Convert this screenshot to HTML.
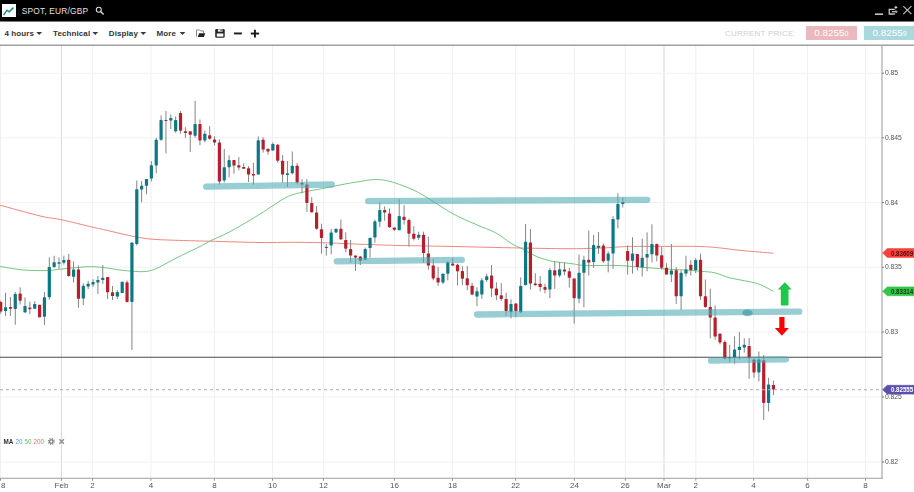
<!DOCTYPE html>
<html><head><meta charset="utf-8">
<style>
*{margin:0;padding:0;box-sizing:border-box}
html,body{width:914px;height:492px;overflow:hidden;background:#fff;font-family:"Liberation Sans",sans-serif}
.hdr{position:absolute;left:0;top:0;width:914px;height:21px;background:#000;border-bottom:1px solid #7a7a7a;height:22px}
.logo{position:absolute;left:2px;top:4px;width:14px;height:13px;background:#fff}
.title{position:absolute;left:21.8px;top:7px;color:#e0e0e0;font-size:8.4px;letter-spacing:0.17px;line-height:9px;white-space:nowrap}
.tb{position:absolute;left:0;top:22px;width:914px;height:22px;background:#fff}
.tbi{position:absolute;top:30.1px;font-size:8px;letter-spacing:0.1px;font-weight:bold;color:#333;line-height:8px;white-space:nowrap}
.tri{position:absolute;top:32.5px;width:0;height:0;border-left:2.5px solid transparent;border-right:2.5px solid transparent;border-top:2.4px solid #4a4a4a}
.sep{position:absolute;left:0;top:44px;width:914px;height:2px;background:linear-gradient(#cdcdcd 50%,#a2a2a2 50%)}
.cp{position:absolute;left:725px;top:30.3px;font-size:8px;color:#cfcfcf;letter-spacing:0.22px;line-height:8px;white-space:nowrap}
.pbox{position:absolute;top:26px;height:14.3px;color:#fff;font-size:9.9px;line-height:13.3px;white-space:nowrap}
.pbox small{font-size:7px}
.chart{position:absolute;left:0;top:0;will-change:transform}
.xl{font-size:8px;fill:#555;font-family:"Liberation Sans",sans-serif}
.yl{font-size:6.8px;fill:#555;font-family:"Liberation Sans",sans-serif}
.tag{font-size:6.8px;font-weight:bold;font-family:"Liberation Sans",sans-serif}
.leg{position:absolute;top:438px;font-size:6.3px;line-height:7px;white-space:nowrap}
</style></head><body>
<svg class="chart" width="914" height="492" viewBox="0 0 914 492">
<line x1="0.5" y1="46" x2="0.5" y2="478.3" stroke="#efefef" stroke-width="1"/>
<line x1="61.5" y1="46" x2="61.5" y2="478.3" stroke="#d9d9d9" stroke-width="1"/>
<line x1="92.6" y1="46" x2="92.6" y2="478.3" stroke="#efefef" stroke-width="1"/>
<line x1="150.9" y1="46" x2="150.9" y2="478.3" stroke="#efefef" stroke-width="1"/>
<line x1="214.4" y1="46" x2="214.4" y2="478.3" stroke="#efefef" stroke-width="1"/>
<line x1="272.5" y1="46" x2="272.5" y2="478.3" stroke="#efefef" stroke-width="1"/>
<line x1="323.4" y1="46" x2="323.4" y2="478.3" stroke="#efefef" stroke-width="1"/>
<line x1="394.4" y1="46" x2="394.4" y2="478.3" stroke="#efefef" stroke-width="1"/>
<line x1="452.5" y1="46" x2="452.5" y2="478.3" stroke="#efefef" stroke-width="1"/>
<line x1="515.6" y1="46" x2="515.6" y2="478.3" stroke="#efefef" stroke-width="1"/>
<line x1="574.4" y1="46" x2="574.4" y2="478.3" stroke="#efefef" stroke-width="1"/>
<line x1="625.3" y1="46" x2="625.3" y2="478.3" stroke="#efefef" stroke-width="1"/>
<line x1="664" y1="46" x2="664" y2="478.3" stroke="#d9d9d9" stroke-width="1"/>
<line x1="695.8" y1="46" x2="695.8" y2="478.3" stroke="#efefef" stroke-width="1"/>
<line x1="753.6" y1="46" x2="753.6" y2="478.3" stroke="#efefef" stroke-width="1"/>
<line x1="807.6" y1="46" x2="807.6" y2="478.3" stroke="#efefef" stroke-width="1"/>
<line x1="865.5" y1="46" x2="865.5" y2="478.3" stroke="#efefef" stroke-width="1"/>
<line x1="0" y1="73.2" x2="882" y2="73.2" stroke="#f1f1f1" stroke-width="1"/>
<line x1="0" y1="137.8" x2="882" y2="137.8" stroke="#f1f1f1" stroke-width="1"/>
<line x1="0" y1="202.6" x2="882" y2="202.6" stroke="#f1f1f1" stroke-width="1"/>
<line x1="0" y1="267.2" x2="882" y2="267.2" stroke="#f1f1f1" stroke-width="1"/>
<line x1="0" y1="332" x2="882" y2="332" stroke="#f1f1f1" stroke-width="1"/>
<line x1="0" y1="397" x2="882" y2="397" stroke="#f1f1f1" stroke-width="1"/>
<line x1="0" y1="462" x2="882" y2="462" stroke="#f1f1f1" stroke-width="1"/>
<path d="M0,205.2 C6.78,207.02 30.4,213.67 40.7,216.1 C51,218.53 53.13,217.95 61.8,219.8 C70.47,221.65 85.4,225.5 92.7,227.2 C100,228.9 99.38,228.58 105.6,230 C111.82,231.42 122.6,234.2 130,235.7 C137.4,237.2 142.33,238.23 150,239 C157.67,239.77 166.07,239.93 176,240.3 C185.93,240.67 195.6,240.83 209.6,241.2 C223.6,241.57 246.5,242.32 260,242.5 C273.5,242.68 280.43,242.27 290.6,242.3 C300.77,242.33 310.77,242.43 321,242.7 C331.23,242.97 342.17,243.53 352,243.9 C361.83,244.27 372,244.63 380,244.9 C388,245.17 388.5,245.25 400,245.5 C411.5,245.75 429,245.98 449,246.4 C469,246.82 500.5,247.62 520,248 C539.5,248.38 554.5,248.63 566,248.7 C577.5,248.77 581.33,248.6 589,248.4 C596.67,248.2 605.67,247.82 612,247.5 C618.33,247.18 619,246.68 627,246.5 C635,246.32 648.5,246.42 660,246.4 C671.5,246.38 686.7,246.22 696,246.4 C705.3,246.58 708.15,246.82 715.8,247.5 C723.45,248.18 732.32,249.55 741.9,250.5 C751.48,251.45 768.07,252.75 773.3,253.2" fill="none" stroke="#ea8279" stroke-width="0.95"/>
<path d="M0,266.5 C3.83,267.07 15.33,269.22 23,269.9 C30.67,270.58 39.62,270.73 46,270.6 C52.38,270.47 56.2,269.6 61.3,269.1 C66.4,268.6 71.5,268.02 76.6,267.6 C81.7,267.18 86.8,266.53 91.9,266.6 C97,266.67 102.1,267.38 107.2,268 C112.3,268.62 116.53,269.68 122.5,270.3 C128.47,270.92 137.67,271.87 143,271.7 C148.33,271.53 150.83,270.57 154.5,269.3 C158.17,268.03 160.33,266.5 165,264.1 C169.67,261.7 176.67,257.82 182.5,254.9 C188.33,251.98 195.43,248.9 200,246.6 C204.57,244.3 205,243.53 209.9,241.1 C214.8,238.67 222.08,235.87 229.4,232 C236.72,228.13 246.7,222.18 253.8,217.9 C260.9,213.62 266.92,209.55 272,206.3 C277.08,203.05 280.22,200.52 284.3,198.4 C288.38,196.28 290.05,195.27 296.5,193.6 C302.95,191.93 314.75,190.03 323,188.4 C331.25,186.77 339.62,184.98 346,183.8 C352.38,182.62 356.72,182 361.3,181.3 C365.88,180.6 369.42,179.75 373.5,179.6 C377.58,179.45 381.47,179.58 385.8,180.4 C390.13,181.22 394.65,182.78 399.5,184.5 C404.35,186.22 409.78,188.2 414.9,190.7 C420.02,193.2 423.85,195.65 430.2,199.5 C436.55,203.35 445.37,209.63 453,213.8 C460.63,217.97 468.87,221.32 476,224.5 C483.13,227.68 489.93,229.75 495.8,232.9 C501.67,236.05 506.85,240.77 511.2,243.4 C515.55,246.03 517.57,246.48 521.9,248.7 C526.23,250.92 532.1,254.6 537.2,256.7 C542.3,258.8 547.03,260.18 552.5,261.3 C557.97,262.42 564.53,262.7 570,263.4 C575.47,264.1 577.63,265.17 585.3,265.5 C592.97,265.83 607.05,265.15 616,265.4 C624.95,265.65 631.33,266.43 639,267 C646.67,267.57 654.35,268.3 662,268.8 C669.65,269.3 678.23,269.57 684.9,270 C691.57,270.43 697.02,270.93 702,271.4 C706.98,271.87 710.2,271.73 714.8,272.8 C719.4,273.87 724.68,276.48 729.6,277.8 C734.52,279.12 739.38,279.63 744.3,280.7 C749.22,281.77 754.25,282.42 759.1,284.2 C763.95,285.98 771.02,290.2 773.4,291.4" fill="none" stroke="#66bf70" stroke-width="0.9"/>
<line x1="0.7" y1="300.7" x2="0.7" y2="313.7" stroke="#858585" stroke-width="1"/>
<rect x="-0.9" y="302" width="3.2" height="9.5" rx="0.6" fill="#b61f2b"/>
<line x1="5.56" y1="292.6" x2="5.56" y2="315.9" stroke="#858585" stroke-width="1"/>
<rect x="3.96" y="307.2" width="3.2" height="3.8" rx="0.6" fill="#0b7884"/>
<line x1="10.42" y1="296.8" x2="10.42" y2="315.9" stroke="#858585" stroke-width="1"/>
<rect x="8.82" y="307" width="3.2" height="1.7" rx="0.6" fill="#b61f2b"/>
<line x1="15.28" y1="292" x2="15.28" y2="324.8" stroke="#858585" stroke-width="1"/>
<rect x="13.68" y="293.9" width="3.2" height="15" rx="0.6" fill="#0b7884"/>
<line x1="20.14" y1="287.4" x2="20.14" y2="304.5" stroke="#858585" stroke-width="1"/>
<rect x="18.54" y="293.6" width="3.2" height="7.1" rx="0.6" fill="#b61f2b"/>
<line x1="25" y1="297.5" x2="25" y2="312.4" stroke="#858585" stroke-width="1"/>
<rect x="23.4" y="306" width="3.2" height="6.4" rx="0.6" fill="#0b7884"/>
<line x1="29.86" y1="301.7" x2="29.86" y2="314.2" stroke="#858585" stroke-width="1"/>
<rect x="28.26" y="307.6" width="3.2" height="1.6" rx="0.6" fill="#b61f2b"/>
<line x1="34.72" y1="301.2" x2="34.72" y2="308.7" stroke="#858585" stroke-width="1"/>
<rect x="33.12" y="304" width="3.2" height="4.7" rx="0.6" fill="#0b7884"/>
<line x1="39.58" y1="304.8" x2="39.58" y2="317.3" stroke="#858585" stroke-width="1"/>
<rect x="37.98" y="304.8" width="3.2" height="12.5" rx="0.6" fill="#b61f2b"/>
<line x1="44.44" y1="292" x2="44.44" y2="325" stroke="#858585" stroke-width="1"/>
<rect x="42.84" y="297.3" width="3.2" height="19.4" rx="0.6" fill="#0b7884"/>
<line x1="49.3" y1="257.3" x2="49.3" y2="299.6" stroke="#858585" stroke-width="1"/>
<rect x="47.7" y="267" width="3.2" height="30.2" rx="0.6" fill="#0b7884"/>
<line x1="54.16" y1="255.7" x2="54.16" y2="267.9" stroke="#858585" stroke-width="1"/>
<rect x="52.56" y="262.2" width="3.2" height="4.7" rx="0.6" fill="#0b7884"/>
<line x1="59.02" y1="257.3" x2="59.02" y2="268.7" stroke="#858585" stroke-width="1"/>
<rect x="57.42" y="262.2" width="3.2" height="1.6" rx="0.6" fill="#0b7884"/>
<line x1="63.88" y1="255.7" x2="63.88" y2="264.6" stroke="#858585" stroke-width="1"/>
<rect x="62.28" y="260" width="3.2" height="2.7" rx="0.6" fill="#0b7884"/>
<line x1="68.74" y1="254" x2="68.74" y2="276.8" stroke="#858585" stroke-width="1"/>
<rect x="67.14" y="259.8" width="3.2" height="16.2" rx="0.6" fill="#b61f2b"/>
<line x1="73.6" y1="261.4" x2="73.6" y2="282.5" stroke="#858585" stroke-width="1"/>
<rect x="72" y="269.5" width="3.2" height="7.3" rx="0.6" fill="#0b7884"/>
<line x1="78.46" y1="265.4" x2="78.46" y2="307.7" stroke="#858585" stroke-width="1"/>
<rect x="76.86" y="269.5" width="3.2" height="29.3" rx="0.6" fill="#b61f2b"/>
<line x1="83.32" y1="283.3" x2="83.32" y2="305" stroke="#858585" stroke-width="1"/>
<rect x="81.72" y="285.8" width="3.2" height="12.7" rx="0.6" fill="#0b7884"/>
<line x1="88.18" y1="280.9" x2="88.18" y2="289" stroke="#858585" stroke-width="1"/>
<rect x="86.58" y="283.7" width="3.2" height="2.9" rx="0.6" fill="#0b7884"/>
<line x1="93.04" y1="279.3" x2="93.04" y2="287" stroke="#858585" stroke-width="1"/>
<rect x="91.44" y="282" width="3.2" height="2.6" rx="0.6" fill="#0b7884"/>
<line x1="97.9" y1="276" x2="97.9" y2="294" stroke="#858585" stroke-width="1"/>
<rect x="96.3" y="280" width="3.2" height="2.5" rx="0.6" fill="#0b7884"/>
<line x1="102.76" y1="265" x2="102.76" y2="284" stroke="#858585" stroke-width="1"/>
<rect x="101.16" y="277.8" width="3.2" height="2.2" rx="0.6" fill="#0b7884"/>
<line x1="107.62" y1="277" x2="107.62" y2="299" stroke="#858585" stroke-width="1"/>
<rect x="106.02" y="277" width="3.2" height="15.3" rx="0.6" fill="#b61f2b"/>
<line x1="112.48" y1="286" x2="112.48" y2="300" stroke="#858585" stroke-width="1"/>
<rect x="110.88" y="292.3" width="3.2" height="3.7" rx="0.6" fill="#b61f2b"/>
<line x1="117.34" y1="290" x2="117.34" y2="299" stroke="#858585" stroke-width="1"/>
<rect x="115.74" y="292" width="3.2" height="4.6" rx="0.6" fill="#0b7884"/>
<line x1="122.2" y1="281.8" x2="122.2" y2="292.9" stroke="#858585" stroke-width="1"/>
<rect x="120.6" y="281.8" width="3.2" height="11.1" rx="0.6" fill="#0b7884"/>
<line x1="127.06" y1="280.5" x2="127.06" y2="302.5" stroke="#858585" stroke-width="1"/>
<rect x="125.46" y="282.3" width="3.2" height="19.6" rx="0.6" fill="#b61f2b"/>
<line x1="131.92" y1="242.6" x2="131.92" y2="350" stroke="#858585" stroke-width="1"/>
<rect x="130.32" y="242.6" width="3.2" height="59.3" rx="0.6" fill="#0b7884"/>
<line x1="136.78" y1="180.5" x2="136.78" y2="245.5" stroke="#858585" stroke-width="1"/>
<rect x="135.18" y="189.2" width="3.2" height="54.7" rx="0.6" fill="#0b7884"/>
<line x1="141.64" y1="181.1" x2="141.64" y2="202.4" stroke="#858585" stroke-width="1"/>
<rect x="140.04" y="185.8" width="3.2" height="3.8" rx="0.6" fill="#0b7884"/>
<line x1="146.5" y1="179" x2="146.5" y2="194.3" stroke="#858585" stroke-width="1"/>
<rect x="144.9" y="179" width="3.2" height="6.8" rx="0.6" fill="#0b7884"/>
<line x1="151.36" y1="161.2" x2="151.36" y2="181.5" stroke="#858585" stroke-width="1"/>
<rect x="149.76" y="165.2" width="3.2" height="13.3" rx="0.6" fill="#0b7884"/>
<line x1="156.22" y1="137.8" x2="156.22" y2="173.3" stroke="#858585" stroke-width="1"/>
<rect x="154.62" y="139.8" width="3.2" height="25.6" rx="0.6" fill="#0b7884"/>
<line x1="161.08" y1="115.4" x2="161.08" y2="140.8" stroke="#858585" stroke-width="1"/>
<rect x="159.48" y="120.1" width="3.2" height="19.7" rx="0.6" fill="#0b7884"/>
<line x1="165.94" y1="110.9" x2="165.94" y2="153.4" stroke="#858585" stroke-width="1"/>
<rect x="164.34" y="119.9" width="3.2" height="1.2" rx="0.6" fill="#b61f2b"/>
<line x1="170.8" y1="114.4" x2="170.8" y2="129" stroke="#858585" stroke-width="1"/>
<rect x="169.2" y="118" width="3.2" height="2.5" rx="0.6" fill="#0b7884"/>
<line x1="175.66" y1="116.4" x2="175.66" y2="132.7" stroke="#858585" stroke-width="1"/>
<rect x="174.06" y="120.1" width="3.2" height="11.2" rx="0.6" fill="#0b7884"/>
<line x1="180.52" y1="110.9" x2="180.52" y2="133.7" stroke="#858585" stroke-width="1"/>
<rect x="178.92" y="113" width="3.2" height="17.7" rx="0.6" fill="#b61f2b"/>
<line x1="185.38" y1="127.2" x2="185.38" y2="137.8" stroke="#858585" stroke-width="1"/>
<rect x="183.78" y="131.3" width="3.2" height="1.8" rx="0.6" fill="#b61f2b"/>
<line x1="190.24" y1="131.3" x2="190.24" y2="152" stroke="#858585" stroke-width="1"/>
<rect x="188.64" y="131.3" width="3.2" height="3.4" rx="0.6" fill="#b61f2b"/>
<line x1="195.1" y1="100.8" x2="195.1" y2="137.8" stroke="#858585" stroke-width="1"/>
<rect x="193.5" y="124.1" width="3.2" height="11.6" rx="0.6" fill="#0b7884"/>
<line x1="199.96" y1="119.5" x2="199.96" y2="145.3" stroke="#858585" stroke-width="1"/>
<rect x="198.36" y="124.1" width="3.2" height="16.3" rx="0.6" fill="#b61f2b"/>
<line x1="204.82" y1="130.7" x2="204.82" y2="142.4" stroke="#858585" stroke-width="1"/>
<rect x="203.22" y="133.7" width="3.2" height="6.7" rx="0.6" fill="#0b7884"/>
<line x1="209.68" y1="126.2" x2="209.68" y2="139.8" stroke="#858585" stroke-width="1"/>
<rect x="208.08" y="135.3" width="3.2" height="3.5" rx="0.6" fill="#b61f2b"/>
<line x1="214.54" y1="136.3" x2="214.54" y2="145.3" stroke="#858585" stroke-width="1"/>
<rect x="212.94" y="139.4" width="3.2" height="3" rx="0.6" fill="#b61f2b"/>
<line x1="219.4" y1="139.4" x2="219.4" y2="184.5" stroke="#858585" stroke-width="1"/>
<rect x="217.8" y="142.4" width="3.2" height="39.1" rx="0.6" fill="#b61f2b"/>
<line x1="224.26" y1="149" x2="224.26" y2="182.5" stroke="#858585" stroke-width="1"/>
<rect x="222.66" y="167.2" width="3.2" height="13.2" rx="0.6" fill="#0b7884"/>
<line x1="229.12" y1="155.4" x2="229.12" y2="177.4" stroke="#858585" stroke-width="1"/>
<rect x="227.52" y="160.1" width="3.2" height="7.1" rx="0.6" fill="#0b7884"/>
<line x1="233.98" y1="160.1" x2="233.98" y2="173.7" stroke="#858585" stroke-width="1"/>
<rect x="232.38" y="160.1" width="3.2" height="5.5" rx="0.6" fill="#b61f2b"/>
<line x1="238.84" y1="157" x2="238.84" y2="170.3" stroke="#858585" stroke-width="1"/>
<rect x="237.24" y="165.2" width="3.2" height="2.4" rx="0.6" fill="#b61f2b"/>
<line x1="243.7" y1="163.3" x2="243.7" y2="168.8" stroke="#858585" stroke-width="1"/>
<rect x="242.1" y="167" width="3.2" height="1.8" rx="0.6" fill="#b61f2b"/>
<line x1="248.56" y1="166.1" x2="248.56" y2="182" stroke="#858585" stroke-width="1"/>
<rect x="246.96" y="168.2" width="3.2" height="6.3" rx="0.6" fill="#b61f2b"/>
<line x1="253.42" y1="162.7" x2="253.42" y2="184.6" stroke="#858585" stroke-width="1"/>
<rect x="251.82" y="173.9" width="3.2" height="1.6" rx="0.6" fill="#b61f2b"/>
<line x1="258.28" y1="136.3" x2="258.28" y2="174.5" stroke="#858585" stroke-width="1"/>
<rect x="256.68" y="140.3" width="3.2" height="34.2" rx="0.6" fill="#0b7884"/>
<line x1="263.14" y1="137.3" x2="263.14" y2="152.5" stroke="#858585" stroke-width="1"/>
<rect x="261.54" y="139.7" width="3.2" height="9.8" rx="0.6" fill="#b61f2b"/>
<line x1="268" y1="148" x2="268" y2="154.6" stroke="#858585" stroke-width="1"/>
<rect x="266.4" y="149" width="3.2" height="2.5" rx="0.6" fill="#b61f2b"/>
<line x1="272.86" y1="142.4" x2="272.86" y2="150.5" stroke="#858585" stroke-width="1"/>
<rect x="271.26" y="144" width="3.2" height="6.5" rx="0.6" fill="#0b7884"/>
<line x1="277.72" y1="144" x2="277.72" y2="162.7" stroke="#858585" stroke-width="1"/>
<rect x="276.12" y="144.8" width="3.2" height="15.9" rx="0.6" fill="#b61f2b"/>
<line x1="282.58" y1="155" x2="282.58" y2="182.6" stroke="#858585" stroke-width="1"/>
<rect x="280.98" y="160.7" width="3.2" height="13.8" rx="0.6" fill="#b61f2b"/>
<line x1="287.44" y1="161" x2="287.44" y2="187" stroke="#858585" stroke-width="1"/>
<rect x="285.84" y="173.3" width="3.2" height="1.6" rx="0.6" fill="#0b7884"/>
<line x1="292.3" y1="151.5" x2="292.3" y2="174.5" stroke="#858585" stroke-width="1"/>
<rect x="290.7" y="165.7" width="3.2" height="7.6" rx="0.6" fill="#0b7884"/>
<line x1="297.16" y1="163.1" x2="297.16" y2="184.6" stroke="#858585" stroke-width="1"/>
<rect x="295.56" y="165.7" width="3.2" height="16.9" rx="0.6" fill="#b61f2b"/>
<line x1="302.02" y1="179.3" x2="302.02" y2="193.2" stroke="#858585" stroke-width="1"/>
<rect x="300.42" y="183" width="3.2" height="1.6" rx="0.6" fill="#b61f2b"/>
<line x1="306.88" y1="178.9" x2="306.88" y2="211.9" stroke="#858585" stroke-width="1"/>
<rect x="305.28" y="184.6" width="3.2" height="18.3" rx="0.6" fill="#b61f2b"/>
<line x1="311.74" y1="197.2" x2="311.74" y2="212.8" stroke="#858585" stroke-width="1"/>
<rect x="310.14" y="203" width="3.2" height="9.3" rx="0.6" fill="#b61f2b"/>
<line x1="316.6" y1="206" x2="316.6" y2="229.8" stroke="#858585" stroke-width="1"/>
<rect x="315" y="212.5" width="3.2" height="16.3" rx="0.6" fill="#b61f2b"/>
<line x1="321.46" y1="223.7" x2="321.46" y2="253.6" stroke="#858585" stroke-width="1"/>
<rect x="319.86" y="229.2" width="3.2" height="8.7" rx="0.6" fill="#b61f2b"/>
<line x1="326.32" y1="244" x2="326.32" y2="255.6" stroke="#858585" stroke-width="1"/>
<rect x="324.72" y="246.7" width="3.2" height="1.2" rx="0.6" fill="#0b7884"/>
<line x1="331.18" y1="228.8" x2="331.18" y2="254.2" stroke="#858585" stroke-width="1"/>
<rect x="329.58" y="232.4" width="3.2" height="13" rx="0.6" fill="#0b7884"/>
<line x1="336.04" y1="228.8" x2="336.04" y2="233" stroke="#858585" stroke-width="1"/>
<rect x="334.44" y="228.8" width="3.2" height="3.6" rx="0.6" fill="#0b7884"/>
<line x1="340.9" y1="219.6" x2="340.9" y2="240" stroke="#858585" stroke-width="1"/>
<rect x="339.3" y="228.8" width="3.2" height="10.5" rx="0.6" fill="#b61f2b"/>
<line x1="345.76" y1="232.4" x2="345.76" y2="252.2" stroke="#858585" stroke-width="1"/>
<rect x="344.16" y="240" width="3.2" height="8.7" rx="0.6" fill="#b61f2b"/>
<line x1="350.62" y1="240" x2="350.62" y2="262.8" stroke="#858585" stroke-width="1"/>
<rect x="349.02" y="249.1" width="3.2" height="6.5" rx="0.6" fill="#b61f2b"/>
<line x1="355.48" y1="255.6" x2="355.48" y2="271" stroke="#858585" stroke-width="1"/>
<rect x="353.88" y="255.6" width="3.2" height="2" rx="0.6" fill="#b61f2b"/>
<line x1="360.34" y1="255.9" x2="360.34" y2="265" stroke="#858585" stroke-width="1"/>
<rect x="358.74" y="256.4" width="3.2" height="4.3" rx="0.6" fill="#b61f2b"/>
<line x1="365.2" y1="247.5" x2="365.2" y2="260.3" stroke="#858585" stroke-width="1"/>
<rect x="363.6" y="249.1" width="3.2" height="10.6" rx="0.6" fill="#0b7884"/>
<line x1="370.06" y1="237.3" x2="370.06" y2="257.6" stroke="#858585" stroke-width="1"/>
<rect x="368.46" y="237.9" width="3.2" height="10.2" rx="0.6" fill="#0b7884"/>
<line x1="374.92" y1="219.6" x2="374.92" y2="242.6" stroke="#858585" stroke-width="1"/>
<rect x="373.32" y="221.3" width="3.2" height="16.2" rx="0.6" fill="#0b7884"/>
<line x1="379.78" y1="202.4" x2="379.78" y2="227.2" stroke="#858585" stroke-width="1"/>
<rect x="378.18" y="210.1" width="3.2" height="11.6" rx="0.6" fill="#0b7884"/>
<line x1="384.64" y1="206.4" x2="384.64" y2="220.7" stroke="#858585" stroke-width="1"/>
<rect x="383.04" y="210.1" width="3.2" height="2.4" rx="0.6" fill="#b61f2b"/>
<line x1="389.5" y1="208.5" x2="389.5" y2="227.8" stroke="#858585" stroke-width="1"/>
<rect x="387.9" y="213.5" width="3.2" height="13.7" rx="0.6" fill="#b61f2b"/>
<line x1="394.36" y1="227.6" x2="394.36" y2="231" stroke="#858585" stroke-width="1"/>
<rect x="392.76" y="227.6" width="3.2" height="2.2" rx="0.6" fill="#b61f2b"/>
<line x1="399.22" y1="199.2" x2="399.22" y2="230.2" stroke="#858585" stroke-width="1"/>
<rect x="397.62" y="216.1" width="3.2" height="14.1" rx="0.6" fill="#0b7884"/>
<line x1="404.08" y1="205.2" x2="404.08" y2="224.6" stroke="#858585" stroke-width="1"/>
<rect x="402.48" y="216.8" width="3.2" height="3.3" rx="0.6" fill="#b61f2b"/>
<line x1="408.94" y1="218.5" x2="408.94" y2="246.5" stroke="#858585" stroke-width="1"/>
<rect x="407.34" y="220.1" width="3.2" height="13.6" rx="0.6" fill="#b61f2b"/>
<line x1="413.8" y1="226.2" x2="413.8" y2="240.4" stroke="#858585" stroke-width="1"/>
<rect x="412.2" y="233.7" width="3.2" height="5.1" rx="0.6" fill="#b61f2b"/>
<line x1="418.66" y1="231.7" x2="418.66" y2="239.8" stroke="#858585" stroke-width="1"/>
<rect x="417.06" y="234.7" width="3.2" height="3.1" rx="0.6" fill="#0b7884"/>
<line x1="423.52" y1="231.7" x2="423.52" y2="262.8" stroke="#858585" stroke-width="1"/>
<rect x="421.92" y="234.7" width="3.2" height="18.3" rx="0.6" fill="#b61f2b"/>
<line x1="428.38" y1="236.7" x2="428.38" y2="269.7" stroke="#858585" stroke-width="1"/>
<rect x="426.78" y="253.4" width="3.2" height="12.2" rx="0.6" fill="#b61f2b"/>
<line x1="433.24" y1="259.1" x2="433.24" y2="280.4" stroke="#858585" stroke-width="1"/>
<rect x="431.64" y="265.6" width="3.2" height="12.8" rx="0.6" fill="#b61f2b"/>
<line x1="438.1" y1="266.8" x2="438.1" y2="285.9" stroke="#858585" stroke-width="1"/>
<rect x="436.5" y="277.8" width="3.2" height="4.7" rx="0.6" fill="#b61f2b"/>
<line x1="442.96" y1="273.3" x2="442.96" y2="283.9" stroke="#858585" stroke-width="1"/>
<rect x="441.36" y="273.7" width="3.2" height="8.8" rx="0.6" fill="#0b7884"/>
<line x1="447.82" y1="261.1" x2="447.82" y2="280.4" stroke="#858585" stroke-width="1"/>
<rect x="446.22" y="262.2" width="3.2" height="11.5" rx="0.6" fill="#0b7884"/>
<line x1="452.68" y1="258.1" x2="452.68" y2="266.2" stroke="#858585" stroke-width="1"/>
<rect x="451.08" y="263.6" width="3.2" height="2" rx="0.6" fill="#b61f2b"/>
<line x1="457.54" y1="263.6" x2="457.54" y2="285.5" stroke="#858585" stroke-width="1"/>
<rect x="455.94" y="264.8" width="3.2" height="6.5" rx="0.6" fill="#b61f2b"/>
<line x1="462.4" y1="266.1" x2="462.4" y2="285.1" stroke="#858585" stroke-width="1"/>
<rect x="460.8" y="271.1" width="3.2" height="7.6" rx="0.6" fill="#b61f2b"/>
<line x1="467.26" y1="266.1" x2="467.26" y2="290" stroke="#858585" stroke-width="1"/>
<rect x="465.66" y="278.3" width="3.2" height="7" rx="0.6" fill="#b61f2b"/>
<line x1="472.12" y1="282.7" x2="472.12" y2="295.3" stroke="#858585" stroke-width="1"/>
<rect x="470.52" y="285.7" width="3.2" height="8.8" rx="0.6" fill="#b61f2b"/>
<line x1="476.98" y1="287.2" x2="476.98" y2="306.1" stroke="#858585" stroke-width="1"/>
<rect x="475.38" y="291.2" width="3.2" height="5.3" rx="0.6" fill="#0b7884"/>
<line x1="481.84" y1="278.2" x2="481.84" y2="298.9" stroke="#858585" stroke-width="1"/>
<rect x="480.24" y="280.2" width="3.2" height="14.3" rx="0.6" fill="#0b7884"/>
<line x1="486.7" y1="273.7" x2="486.7" y2="282" stroke="#858585" stroke-width="1"/>
<rect x="485.1" y="276.3" width="3.2" height="3.7" rx="0.6" fill="#0b7884"/>
<line x1="491.56" y1="265" x2="491.56" y2="296.9" stroke="#858585" stroke-width="1"/>
<rect x="489.96" y="275.5" width="3.2" height="12.9" rx="0.6" fill="#b61f2b"/>
<line x1="496.42" y1="282.3" x2="496.42" y2="300" stroke="#858585" stroke-width="1"/>
<rect x="494.82" y="288.4" width="3.2" height="6.9" rx="0.6" fill="#b61f2b"/>
<line x1="501.28" y1="283.1" x2="501.28" y2="301" stroke="#858585" stroke-width="1"/>
<rect x="499.68" y="295.3" width="3.2" height="3.6" rx="0.6" fill="#b61f2b"/>
<line x1="506.14" y1="292.8" x2="506.14" y2="315.6" stroke="#858585" stroke-width="1"/>
<rect x="504.54" y="298.9" width="3.2" height="12.2" rx="0.6" fill="#b61f2b"/>
<line x1="511" y1="299.3" x2="511" y2="318.3" stroke="#858585" stroke-width="1"/>
<rect x="509.4" y="304" width="3.2" height="8.2" rx="0.6" fill="#0b7884"/>
<line x1="515.86" y1="303" x2="515.86" y2="317.2" stroke="#858585" stroke-width="1"/>
<rect x="514.26" y="303.4" width="3.2" height="7.7" rx="0.6" fill="#b61f2b"/>
<line x1="520.72" y1="277.4" x2="520.72" y2="313.2" stroke="#858585" stroke-width="1"/>
<rect x="519.12" y="286" width="3.2" height="26.2" rx="0.6" fill="#0b7884"/>
<line x1="525.58" y1="224" x2="525.58" y2="285.5" stroke="#858585" stroke-width="1"/>
<rect x="523.98" y="241.8" width="3.2" height="43.2" rx="0.6" fill="#0b7884"/>
<line x1="530.44" y1="229" x2="530.44" y2="289.6" stroke="#858585" stroke-width="1"/>
<rect x="528.84" y="242.5" width="3.2" height="41" rx="0.6" fill="#b61f2b"/>
<line x1="535.3" y1="273.3" x2="535.3" y2="285.5" stroke="#858585" stroke-width="1"/>
<rect x="533.7" y="283.5" width="3.2" height="1.7" rx="0.6" fill="#b61f2b"/>
<line x1="540.16" y1="276.2" x2="540.16" y2="291.4" stroke="#858585" stroke-width="1"/>
<rect x="538.56" y="283.7" width="3.2" height="3.4" rx="0.6" fill="#b61f2b"/>
<line x1="545.02" y1="283.8" x2="545.02" y2="293.4" stroke="#858585" stroke-width="1"/>
<rect x="543.42" y="287.1" width="3.2" height="2.7" rx="0.6" fill="#b61f2b"/>
<line x1="549.88" y1="268" x2="549.88" y2="298" stroke="#858585" stroke-width="1"/>
<rect x="548.28" y="270.1" width="3.2" height="19.5" rx="0.6" fill="#0b7884"/>
<line x1="554.74" y1="261.5" x2="554.74" y2="288.9" stroke="#858585" stroke-width="1"/>
<rect x="553.14" y="270.2" width="3.2" height="5.3" rx="0.6" fill="#b61f2b"/>
<line x1="559.6" y1="262.1" x2="559.6" y2="277.3" stroke="#858585" stroke-width="1"/>
<rect x="558" y="269.2" width="3.2" height="6.3" rx="0.6" fill="#0b7884"/>
<line x1="564.46" y1="262.6" x2="564.46" y2="275.3" stroke="#858585" stroke-width="1"/>
<rect x="562.86" y="269.6" width="3.2" height="2" rx="0.6" fill="#b61f2b"/>
<line x1="569.32" y1="268" x2="569.32" y2="287.5" stroke="#858585" stroke-width="1"/>
<rect x="567.72" y="271.2" width="3.2" height="6.6" rx="0.6" fill="#b61f2b"/>
<line x1="574.18" y1="278.4" x2="574.18" y2="323.6" stroke="#858585" stroke-width="1"/>
<rect x="572.58" y="278.4" width="3.2" height="19.8" rx="0.6" fill="#b61f2b"/>
<line x1="579.04" y1="254.5" x2="579.04" y2="303.3" stroke="#858585" stroke-width="1"/>
<rect x="577.44" y="272.8" width="3.2" height="25.9" rx="0.6" fill="#0b7884"/>
<line x1="583.9" y1="255.7" x2="583.9" y2="307.3" stroke="#858585" stroke-width="1"/>
<rect x="582.3" y="259.8" width="3.2" height="13" rx="0.6" fill="#0b7884"/>
<line x1="588.76" y1="230.5" x2="588.76" y2="275.5" stroke="#858585" stroke-width="1"/>
<rect x="587.16" y="259.8" width="3.2" height="2.8" rx="0.6" fill="#b61f2b"/>
<line x1="593.62" y1="235" x2="593.62" y2="268" stroke="#858585" stroke-width="1"/>
<rect x="592.02" y="245.1" width="3.2" height="16.9" rx="0.6" fill="#0b7884"/>
<line x1="598.48" y1="232.1" x2="598.48" y2="253.9" stroke="#858585" stroke-width="1"/>
<rect x="596.88" y="245.7" width="3.2" height="2.1" rx="0.6" fill="#0b7884"/>
<line x1="603.34" y1="243.4" x2="603.34" y2="262.9" stroke="#858585" stroke-width="1"/>
<rect x="601.74" y="245.4" width="3.2" height="15.9" rx="0.6" fill="#b61f2b"/>
<line x1="608.2" y1="251.3" x2="608.2" y2="272.4" stroke="#858585" stroke-width="1"/>
<rect x="606.6" y="253.4" width="3.2" height="7.3" rx="0.6" fill="#0b7884"/>
<line x1="613.06" y1="216.2" x2="613.06" y2="269" stroke="#858585" stroke-width="1"/>
<rect x="611.46" y="219" width="3.2" height="34.6" rx="0.6" fill="#0b7884"/>
<line x1="617.92" y1="193.2" x2="617.92" y2="228.4" stroke="#858585" stroke-width="1"/>
<rect x="616.32" y="204" width="3.2" height="15.6" rx="0.6" fill="#0b7884"/>
<line x1="622.78" y1="197.3" x2="622.78" y2="207.4" stroke="#858585" stroke-width="1"/>
<rect x="621.18" y="202" width="3.2" height="2" rx="0.6" fill="#0b7884"/>
<line x1="627.64" y1="245.4" x2="627.64" y2="274.6" stroke="#858585" stroke-width="1"/>
<rect x="626.04" y="251.1" width="3.2" height="9.7" rx="0.6" fill="#b61f2b"/>
<line x1="632.5" y1="237.3" x2="632.5" y2="273.6" stroke="#858585" stroke-width="1"/>
<rect x="630.9" y="253.6" width="3.2" height="7.2" rx="0.6" fill="#0b7884"/>
<line x1="637.36" y1="254" x2="637.36" y2="270.4" stroke="#858585" stroke-width="1"/>
<rect x="635.76" y="254" width="3.2" height="13" rx="0.6" fill="#b61f2b"/>
<line x1="642.22" y1="238.5" x2="642.22" y2="276.5" stroke="#858585" stroke-width="1"/>
<rect x="640.62" y="257.8" width="3.2" height="9.6" rx="0.6" fill="#0b7884"/>
<line x1="647.08" y1="232.4" x2="647.08" y2="271.4" stroke="#858585" stroke-width="1"/>
<rect x="645.48" y="254.1" width="3.2" height="3.5" rx="0.6" fill="#0b7884"/>
<line x1="651.94" y1="224.3" x2="651.94" y2="262.3" stroke="#858585" stroke-width="1"/>
<rect x="650.34" y="244" width="3.2" height="10.3" rx="0.6" fill="#0b7884"/>
<line x1="656.8" y1="243.4" x2="656.8" y2="261.3" stroke="#858585" stroke-width="1"/>
<rect x="655.2" y="244" width="3.2" height="11.6" rx="0.6" fill="#b61f2b"/>
<line x1="661.66" y1="247.1" x2="661.66" y2="269.4" stroke="#858585" stroke-width="1"/>
<rect x="660.06" y="255.2" width="3.2" height="12.6" rx="0.6" fill="#b61f2b"/>
<line x1="666.52" y1="263.3" x2="666.52" y2="274.6" stroke="#858585" stroke-width="1"/>
<rect x="664.92" y="267.8" width="3.2" height="6.8" rx="0.6" fill="#b61f2b"/>
<line x1="671.38" y1="244" x2="671.38" y2="282" stroke="#858585" stroke-width="1"/>
<rect x="669.78" y="270.4" width="3.2" height="4.2" rx="0.6" fill="#0b7884"/>
<line x1="676.24" y1="267.3" x2="676.24" y2="303.9" stroke="#858585" stroke-width="1"/>
<rect x="674.64" y="270.3" width="3.2" height="26" rx="0.6" fill="#b61f2b"/>
<line x1="681.1" y1="270.3" x2="681.1" y2="310" stroke="#858585" stroke-width="1"/>
<rect x="679.5" y="272.8" width="3.2" height="23.5" rx="0.6" fill="#0b7884"/>
<line x1="685.96" y1="255.7" x2="685.96" y2="276.5" stroke="#858585" stroke-width="1"/>
<rect x="684.36" y="269.4" width="3.2" height="4.2" rx="0.6" fill="#0b7884"/>
<line x1="690.82" y1="260.2" x2="690.82" y2="275.5" stroke="#858585" stroke-width="1"/>
<rect x="689.22" y="264.8" width="3.2" height="5.3" rx="0.6" fill="#b61f2b"/>
<line x1="695.68" y1="258.2" x2="695.68" y2="273" stroke="#858585" stroke-width="1"/>
<rect x="694.08" y="260" width="3.2" height="10.3" rx="0.6" fill="#0b7884"/>
<line x1="700.54" y1="253.7" x2="700.54" y2="299.8" stroke="#858585" stroke-width="1"/>
<rect x="698.94" y="259.8" width="3.2" height="36.5" rx="0.6" fill="#b61f2b"/>
<line x1="705.4" y1="279.5" x2="705.4" y2="307.9" stroke="#858585" stroke-width="1"/>
<rect x="703.8" y="296.3" width="3.2" height="10.6" rx="0.6" fill="#b61f2b"/>
<line x1="710.26" y1="288.6" x2="710.26" y2="338.4" stroke="#858585" stroke-width="1"/>
<rect x="708.66" y="306.9" width="3.2" height="10.6" rx="0.6" fill="#b61f2b"/>
<line x1="715.12" y1="305.3" x2="715.12" y2="339.6" stroke="#858585" stroke-width="1"/>
<rect x="713.52" y="317.5" width="3.2" height="19" rx="0.6" fill="#b61f2b"/>
<line x1="719.98" y1="333" x2="719.98" y2="344.4" stroke="#858585" stroke-width="1"/>
<rect x="718.38" y="333.8" width="3.2" height="8.6" rx="0.6" fill="#b61f2b"/>
<line x1="724.84" y1="340.3" x2="724.84" y2="359.6" stroke="#858585" stroke-width="1"/>
<rect x="723.24" y="342" width="3.2" height="16.6" rx="0.6" fill="#b61f2b"/>
<line x1="729.7" y1="344.8" x2="729.7" y2="362.7" stroke="#858585" stroke-width="1"/>
<rect x="728.1" y="357.2" width="3.2" height="1.2" rx="0.6" fill="#0b7884"/>
<line x1="734.56" y1="336.3" x2="734.56" y2="363.7" stroke="#858585" stroke-width="1"/>
<rect x="732.96" y="349.5" width="3.2" height="8.1" rx="0.6" fill="#0b7884"/>
<line x1="739.42" y1="332.2" x2="739.42" y2="359.6" stroke="#858585" stroke-width="1"/>
<rect x="737.82" y="346.8" width="3.2" height="3.3" rx="0.6" fill="#0b7884"/>
<line x1="744.28" y1="338.3" x2="744.28" y2="352.5" stroke="#858585" stroke-width="1"/>
<rect x="742.68" y="344.8" width="3.2" height="2.6" rx="0.6" fill="#0b7884"/>
<line x1="749.14" y1="337.9" x2="749.14" y2="378.9" stroke="#858585" stroke-width="1"/>
<rect x="747.54" y="346" width="3.2" height="12.2" rx="0.6" fill="#b61f2b"/>
<line x1="754" y1="358.6" x2="754" y2="377.9" stroke="#858585" stroke-width="1"/>
<rect x="752.4" y="359.6" width="3.2" height="12.8" rx="0.6" fill="#b61f2b"/>
<line x1="758.86" y1="351.5" x2="758.86" y2="381.4" stroke="#858585" stroke-width="1"/>
<rect x="757.26" y="359.6" width="3.2" height="12.8" rx="0.6" fill="#0b7884"/>
<line x1="763.72" y1="355" x2="763.72" y2="420" stroke="#858585" stroke-width="1"/>
<rect x="762.12" y="360.2" width="3.2" height="42.7" rx="0.6" fill="#b61f2b"/>
<line x1="768.58" y1="377.9" x2="768.58" y2="411.5" stroke="#858585" stroke-width="1"/>
<rect x="766.98" y="384.6" width="3.2" height="18.3" rx="0.6" fill="#0b7884"/>
<line x1="773.44" y1="380.6" x2="773.44" y2="395.2" stroke="#858585" stroke-width="1"/>
<rect x="771.84" y="385" width="3.2" height="4.5" rx="0.6" fill="#b61f2b"/>
<line x1="0" y1="357.3" x2="882" y2="357.3" stroke="#4a4a4a" stroke-width="1.1"/>
<line x1="0" y1="389.8" x2="882" y2="389.8" stroke="#aaa7d2" stroke-width="1.1" stroke-dasharray="3 3"/>
<line x1="206.2" y1="186.6" x2="331.8" y2="184.5" stroke="rgba(82,172,182,0.6)" stroke-width="6.3" stroke-linecap="round"/>
<line x1="368.2" y1="201.2" x2="647.3" y2="199.8" stroke="rgba(82,172,182,0.6)" stroke-width="6.3" stroke-linecap="round"/>
<line x1="336.7" y1="261.3" x2="461.8" y2="259.9" stroke="rgba(82,172,182,0.6)" stroke-width="6.3" stroke-linecap="round"/>
<line x1="477" y1="314.5" x2="799.2" y2="311.6" stroke="rgba(82,172,182,0.6)" stroke-width="6.3" stroke-linecap="round"/>
<line x1="711" y1="360.6" x2="786" y2="359.3" stroke="rgba(82,172,182,0.6)" stroke-width="6.3" stroke-linecap="round"/>
<ellipse cx="747.5" cy="312.9" rx="5.2" ry="3.3" fill="rgba(45,140,155,0.55)"/>
<path d="M784.8,282.3 L791.6,289.6 L788.5,289.6 L788.5,304.4 Q788.5,305.4 787.5,305.4 L781.8,305.4 Q780.8,305.4 780.8,304.4 L780.8,289.6 L777.8,289.6 Z" fill="#1ec84b"/>
<path d="M779.3,317 L784.5,317 L784.5,328 L788.8,328 L781.9,335.8 L774.9,328 L779.3,328 Z" fill="#ff0000"/>
<line x1="0" y1="478.3" x2="882.6" y2="478.3" stroke="#b3b3b3" stroke-width="1.2"/>
<line x1="882" y1="46" x2="882" y2="478.9" stroke="#a9a9a9" stroke-width="1.2"/>
<line x1="0.5" y1="478.3" x2="0.5" y2="480.8" stroke="#999" stroke-width="1"/>
<text x="1" y="487.8" class="xl">8</text>
<line x1="61.5" y1="478.3" x2="61.5" y2="480.8" stroke="#999" stroke-width="1"/>
<text x="61.5" y="487.8" class="xl" text-anchor="middle">Feb</text>
<line x1="92.6" y1="478.3" x2="92.6" y2="480.8" stroke="#999" stroke-width="1"/>
<text x="92.6" y="487.8" class="xl" text-anchor="middle">2</text>
<line x1="150.9" y1="478.3" x2="150.9" y2="480.8" stroke="#999" stroke-width="1"/>
<text x="150.9" y="487.8" class="xl" text-anchor="middle">4</text>
<line x1="214.4" y1="478.3" x2="214.4" y2="480.8" stroke="#999" stroke-width="1"/>
<text x="214.4" y="487.8" class="xl" text-anchor="middle">8</text>
<line x1="272.5" y1="478.3" x2="272.5" y2="480.8" stroke="#999" stroke-width="1"/>
<text x="272.5" y="487.8" class="xl" text-anchor="middle">10</text>
<line x1="323.4" y1="478.3" x2="323.4" y2="480.8" stroke="#999" stroke-width="1"/>
<text x="323.4" y="487.8" class="xl" text-anchor="middle">12</text>
<line x1="394.4" y1="478.3" x2="394.4" y2="480.8" stroke="#999" stroke-width="1"/>
<text x="394.4" y="487.8" class="xl" text-anchor="middle">16</text>
<line x1="452.5" y1="478.3" x2="452.5" y2="480.8" stroke="#999" stroke-width="1"/>
<text x="452.5" y="487.8" class="xl" text-anchor="middle">18</text>
<line x1="515.6" y1="478.3" x2="515.6" y2="480.8" stroke="#999" stroke-width="1"/>
<text x="515.6" y="487.8" class="xl" text-anchor="middle">22</text>
<line x1="574.4" y1="478.3" x2="574.4" y2="480.8" stroke="#999" stroke-width="1"/>
<text x="574.4" y="487.8" class="xl" text-anchor="middle">24</text>
<line x1="625.3" y1="478.3" x2="625.3" y2="480.8" stroke="#999" stroke-width="1"/>
<text x="625.3" y="487.8" class="xl" text-anchor="middle">26</text>
<line x1="664" y1="478.3" x2="664" y2="480.8" stroke="#999" stroke-width="1"/>
<text x="664" y="487.8" class="xl" text-anchor="middle">Mar</text>
<line x1="695.8" y1="478.3" x2="695.8" y2="480.8" stroke="#999" stroke-width="1"/>
<text x="695.8" y="487.8" class="xl" text-anchor="middle">2</text>
<line x1="753.6" y1="478.3" x2="753.6" y2="480.8" stroke="#999" stroke-width="1"/>
<text x="753.6" y="487.8" class="xl" text-anchor="middle">4</text>
<line x1="807.6" y1="478.3" x2="807.6" y2="480.8" stroke="#999" stroke-width="1"/>
<text x="807.6" y="487.8" class="xl" text-anchor="middle">6</text>
<line x1="865.5" y1="478.3" x2="865.5" y2="480.8" stroke="#999" stroke-width="1"/>
<text x="865.5" y="487.8" class="xl" text-anchor="middle">8</text>
<line x1="882" y1="73.2" x2="884" y2="73.2" stroke="#777" stroke-width="1"/>
<text x="884.9" y="75.2" class="yl">0.85</text>
<line x1="882" y1="137.8" x2="884" y2="137.8" stroke="#777" stroke-width="1"/>
<text x="884.9" y="139.8" class="yl">0.845</text>
<line x1="882" y1="202.6" x2="884" y2="202.6" stroke="#777" stroke-width="1"/>
<text x="884.9" y="204.6" class="yl">0.84</text>
<line x1="882" y1="267.2" x2="884" y2="267.2" stroke="#777" stroke-width="1"/>
<text x="884.9" y="269.2" class="yl">0.835</text>
<line x1="882" y1="332" x2="884" y2="332" stroke="#777" stroke-width="1"/>
<text x="884.9" y="334" class="yl">0.83</text>
<line x1="882" y1="397" x2="884" y2="397" stroke="#777" stroke-width="1"/>
<text x="884.9" y="399" class="yl">0.825</text>
<line x1="882" y1="462" x2="884" y2="462" stroke="#777" stroke-width="1"/>
<text x="884.9" y="464" class="yl">0.82</text>
<path d="M882.6,253 L887.3,248.6 L914,248.6 L914,257.4 L887.3,257.4 Z" fill="#f7443a" stroke="#f7443a" stroke-width="0.6" stroke-linejoin="round"/><text x="891" y="255.5" class="tag" fill="#4a0d0d" textLength="22.2" lengthAdjust="spacingAndGlyphs">0.83609</text>
<path d="M882.6,291.3 L887.3,286.9 L914,286.9 L914,295.7 L887.3,295.7 Z" fill="#35c446" stroke="#35c446" stroke-width="0.6" stroke-linejoin="round"/><text x="891" y="293.8" class="tag" fill="#0d3a14" textLength="22.2" lengthAdjust="spacingAndGlyphs">0.83314</text>
<path d="M882.6,389.7 L887.3,385.3 L914,385.3 L914,394.1 L887.3,394.1 Z" fill="#5a4fac" stroke="#5a4fac" stroke-width="0.6" stroke-linejoin="round"/><text x="891" y="392.2" class="tag" fill="#ffffff" textLength="22.2" lengthAdjust="spacingAndGlyphs">0.82555</text>
</svg>
<div class="hdr"></div>
<div class="logo"><svg width="14" height="13" viewBox="0 0 14 13"><path d="M1.6,10.1 L4.9,5.2 L7.2,6.8 L11.5,2.6" fill="none" stroke="#178a8e" stroke-width="1.5"/></svg></div>
<div class="title">SPOT, EUR/GBP</div>
<svg style="position:absolute;left:94.6px;top:5.8px" width="11" height="10" viewBox="0 0 11 10"><circle cx="3.8" cy="3.8" r="2.5" fill="none" stroke="#ddd" stroke-width="1.1"/><path d="M5.6,5.6 L8.6,8.4" stroke="#ddd" stroke-width="1.3"/></svg>
<svg style="position:absolute;left:872px;top:4px" width="42" height="13" viewBox="872 4 42 13">
<rect x="874.9" y="13.4" width="8.2" height="1.6" fill="#c4c4c4"/>
<path d="M894.2,10.1 V9.45 H889.25 V14 H894.2 V13.3" fill="none" stroke="#c8c8c8" stroke-width="1.3"/>
<path d="M891.8,11.7 H896.6" stroke="#cfcfcf" stroke-width="1.2"/>
<path d="M895.5,10.4 L897.3,11.7 L895.5,13" fill="none" stroke="#cfcfcf" stroke-width="0.8"/>
<path d="M895.9,5.5 L896.6,6.7 L897.8,7.4 L896.6,8.1 L895.9,9.3 L895.2,8.1 L894,7.4 L895.2,6.7 Z" fill="#d4d4d4"/>
<path d="M903.3,6.2 L911.4,14.1 M911.4,6.2 L903.3,14.1" stroke="#c2c2c2" stroke-width="1.15"/>
</svg>
<div class="tb"></div>
<div class="tbi" style="left:4.4px">4 hours</div>
<div class="tbi" style="left:53px">Technical</div>
<div class="tbi" style="left:108.8px">Display</div>
<div class="tbi" style="left:156.6px">More</div>
<svg style="position:absolute;left:0;top:30px" width="200" height="8" viewBox="0 30 200 8"><path d="M36.3,32.1 L42.1,32.1 L39.2,35 Z" fill="#3a3a3a"/><path d="M92.4,32.1 L98.2,32.1 L95.3,35 Z" fill="#3a3a3a"/><path d="M140.4,32.1 L146.2,32.1 L143.3,35 Z" fill="#3a3a3a"/><path d="M179.6,32.1 L185.4,32.1 L182.5,35 Z" fill="#3a3a3a"/></svg>
<svg style="position:absolute;left:194px;top:27px" width="70" height="13" viewBox="194 27 70 13">
<path d="M196.5,36.6 L196.5,29.9 L199.4,29.9 L200.4,30.9 L203.5,30.9 L203.5,33.2" fill="none" stroke="#7a7a7a" stroke-width="0.9"/>
<path d="M197.8,36.9 L199.1,33.2 L205.3,33.2 L203.9,36.9 Z" fill="#222"/>
<rect x="215.2" y="29" width="9.5" height="8.8" rx="1.3" fill="#262626"/>
<rect x="217.9" y="29.4" width="4.6" height="2.2" fill="#fff"/>
<rect x="220.4" y="29.6" width="1.4" height="1.5" fill="#5a5a5a"/>
<rect x="216.8" y="33.5" width="6.5" height="3.1" fill="#fff"/>
<rect x="234" y="32.5" width="7.9" height="1.9" fill="#1a1a1a"/>
<rect x="250.8" y="32.6" width="8.3" height="1.9" fill="#1a1a1a"/>
<rect x="254" y="29.8" width="1.9" height="7.7" fill="#1a1a1a"/>
</svg>
<div class="cp">CURRENT PRICE:</div>
<div class="pbox" style="left:805.7px;width:51.3px;background:#ebb8bd;padding-left:8.5px">0.8255<small>0</small></div>
<div class="pbox" style="left:864px;width:50px;background:#a9d8dd;padding-left:8.5px">0.8255<small>9</small></div>
<div class="sep"></div>
<div class="leg" style="left:3.4px;font-weight:bold;color:#333">MA</div>
<div class="leg" style="left:15.5px;color:#5b9bd5">20</div>
<div class="leg" style="left:24.6px;color:#5cbf5c">50</div>
<div class="leg" style="left:33.6px;color:#e07070">200</div>
<svg style="position:absolute;left:46px;top:436px" width="20" height="10" viewBox="46 436 20 10">
<circle cx="51.3" cy="441.4" r="2.95" fill="none" stroke="#8c8c8c" stroke-width="1.3" stroke-dasharray="1.16 1.16"/>
<circle cx="51.3" cy="441.4" r="1.75" fill="none" stroke="#8c8c8c" stroke-width="1.5"/>
<path d="M59.4,439.3 L63.9,443.7 M63.9,439.3 L59.4,443.7" stroke="#8c8c8c" stroke-width="1.4"/>
</svg>
</body></html>
